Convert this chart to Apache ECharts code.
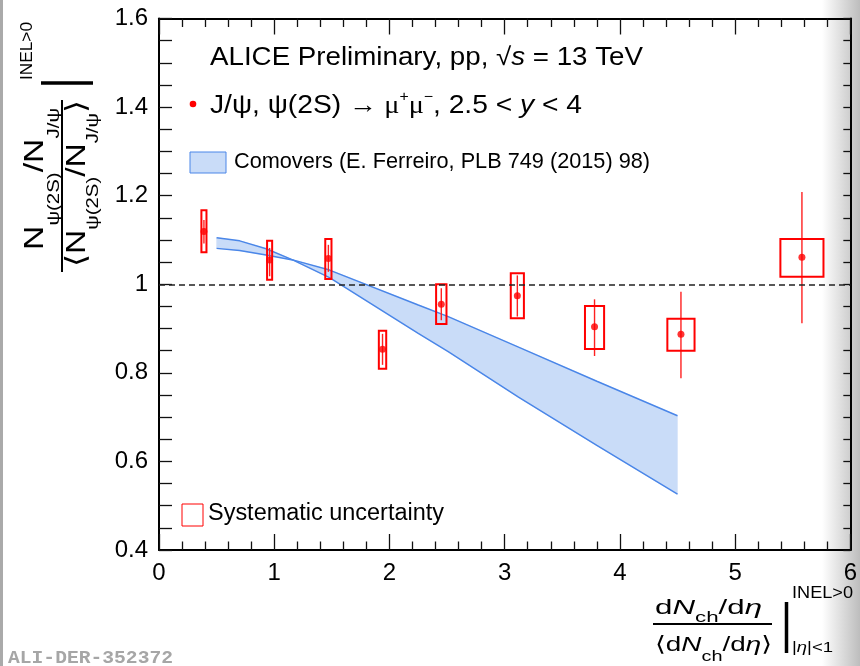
<!DOCTYPE html>
<html><head><meta charset="utf-8">
<script src="https://cdn.jsdelivr.net/npm/echarts@6/dist/echarts.min.js"></script>
<style>html,body{margin:0;padding:0;background:#fff}#c{width:860px;height:666px}</style>
</head><body><div id="c"></div>
<script>
// ---- data ----
const xVals  = [0.39, 0.96, 1.47, 1.94, 2.45, 3.11, 3.78, 4.53, 5.58];
const yVals  = [1.119, 1.055, 1.058, 0.853, 0.955, 0.974, 0.904, 0.887, 1.061];
const statLo = [1.092, 1.018, 1.028, 0.818, 0.919, 0.927, 0.838, 0.788, 0.912];
const statHi = [1.145, 1.082, 1.089, 0.888, 0.991, 1.020, 0.966, 0.983, 1.208];
const sysLo  = [1.072, 1.010, 1.012, 0.809, 0.910, 0.923, 0.854, 0.850, 1.017];
const sysHi  = [1.167, 1.098, 1.102, 0.895, 1.000, 1.025, 0.951, 0.922, 1.102];
const xErr   = [0.022, 0.022, 0.027, 0.032, 0.045, 0.057, 0.083, 0.118, 0.187];
const bandX  = [0.50, 0.70, 0.93, 1.16, 1.48, 2.25, 2.51, 3.12, 3.80, 4.50];
const bandA  = [1.105, 1.098, 1.080, 1.055, 1.015, 0.889, 0.848, 0.745, 0.636, 0.526];
const bandB  = [1.081, 1.076, 1.066, 1.055, 1.032, 0.953, 0.927, 0.858, 0.781, 0.703];
const xTickLabels = ['0', '1', '2', '3', '4', '5', '6'];
const yTickLabels = {0.4:'0.4', 0.6:'0.6', 0.8:'0.8', 1:'1', 1.2:'1.2', 1.4:'1.4', 1.6:'1.6'};

// ---- helpers for composite text ----
const FS = '"Liberation Sans", "DejaVu Sans", sans-serif';
const FSerif = '"Liberation Serif", "DejaVu Serif", serif';
const mctx = document.createElement('canvas').getContext('2d');
function fontStr(p){ return (p.it?'italic ':'') + (p.b?'bold ':'') + p.s + 'px ' + (p.f||FS); }
function row(pieces, target, gx, gy, left) {
  let x = 0; const kids = [];
  pieces.forEach(p => {
    const f = fontStr(p);
    mctx.font = f;
    const wd = mctx.measureText(p.t).width;
    kids.push({type:'text', x: x, y: p.dy||0, silent:true,
      style:{text:p.t, font:f, fill:p.c||'#000', align:'left', verticalAlign:'middle', textAlign:'left', textVerticalAlign:'middle'}});
    x += wd;
  });
  const off = left ? 0 : -x/2;
  kids.forEach(k => { k.x += off; });
  return {type:'group', x: gx, y: gy, scaleX: target ? target / x : 1, children: kids};
}

const ax = (pos, labels, isX) => ({
  type:'value', position: pos, min: isX?0:0.4, max: isX?6:1.6, interval: isX?1:0.2,
  axisLine:{show:true, onZero:false, lineStyle:{color:'#000', width:2}},
  axisTick:{show:true, inside:true, length: isX?16:(pos==='right'?7:13), lineStyle:{color:'#111', width:1.3}},
  minorTick:{show:true, splitNumber: isX?5:4, length: isX?8.5:(pos==='right'?7:13), lineStyle:{color:'#111', width:1.3}},
  splitLine:{show:false}, minorSplitLine:{show:false},
  axisLabel:{show: labels, margin: 11, fontSize: 24, fontFamily: FS, color:'#000',
    formatter: v => isX ? xTickLabels[Math.round(v)] : yTickLabels[Math.round(v*10)/10]}
});

const chart = echarts.init(document.getElementById('c'), null, {renderer:'canvas'});
const option = {
  animation: false,
  backgroundColor: '#fff',
  grid: {left:159, right:6, top:18.5, bottom:116, containLabel:false},
  xAxis: [ax('bottom', true, true), ax('top', false, true)],
  yAxis: [ax('left', true, false), ax('right', false, false)],
  series: [
    { type:'custom', name:'band', z:1, silent:true, data:[[bandX[0], bandA[0]]],
      renderItem: (params, api) => {
        const pts = bandX.map((x,i)=>api.coord([x, bandA[i]]))
          .concat(bandX.map((x,i)=>api.coord([x, bandB[i]])).reverse());
        return {type:'polygon', shape:{points: pts}, style:{fill:'#c9dcf8', stroke:'#dbe7fa', lineWidth:1}};
      }},
    { type:'line', name:'A', z:2, silent:true, symbol:'none', data: bandX.map((x,i)=>[x, bandA[i]]),
      lineStyle:{color:'#4a86e8', width:1.5} },
    { type:'line', name:'B', z:2, silent:true, symbol:'none', data: bandX.map((x,i)=>[x, bandB[i]]),
      lineStyle:{color:'#4a86e8', width:1.5} },
    { type:'custom', name:'stat', z:3, silent:true,
      data: xVals.map((x,i)=>[x, statLo[i], statHi[i]]),
      renderItem: (params, api) => {
        const a = api.coord([api.value(0), api.value(1)]);
        const b = api.coord([api.value(0), api.value(2)]);
        return {type:'line', shape:{x1:a[0], y1:a[1], x2:b[0], y2:b[1]}, style:{stroke:'#ff2020', lineWidth:1.4}};
      }},
    { type:'custom', name:'sys', z:4, silent:true,
      data: xVals.map((x,i)=>[x, sysLo[i], sysHi[i], xErr[i]]),
      renderItem: (params, api) => {
        const x = api.value(0), dx = api.value(3);
        const p1 = api.coord([x-dx, api.value(2)]);
        const p2 = api.coord([x+dx, api.value(1)]);
        return {type:'rect', shape:{x:p1[0], y:p1[1], width:p2[0]-p1[0], height:p2[1]-p1[1]},
          style:{fill:null, stroke:'#ff0000', lineWidth:2}};
      }},
    { type:'scatter', name:'pts', z:5, silent:true, symbol:'circle', symbolSize:7,
      data: xVals.map((x,i)=>[x, yVals[i]]), itemStyle:{color:'#ff0000'},
      markLine:{silent:true, symbol:'none', label:{show:false}, animation:false,
        lineStyle:{type:[6,4], color:'#222', width:1.5}, data:[{yAxis:1}]} }
  ],
  graphic: [
    {type:'rect', z:-10, silent:true, shape:{x:822, y:0, width:38, height:666},
      style:{fill:new echarts.graphic.LinearGradient(0,0,1,0,[{offset:0,color:'#ffffff'},{offset:1,color:'#bdbdbd'}])}},
    {type:'rect', z:-10, silent:true, shape:{x:0, y:0, width:3, height:666}, style:{fill:'#aaaaaa'}},
    // y-axis title (rotated)
    {type:'group', x:62, y:186, rotation:Math.PI/2, silent:true, children:[
      row([{t:'N',s:28,dy:-27},{t:'ψ(2S)',s:17,dy:-7.5},{t:'/N',s:28,dy:-27},{t:'J/ψ',s:17,dy:-7.5}], 142, 7, 0),
      {type:'line', shape:{x1:-86,y1:0,x2:86,y2:0}, style:{stroke:'#000', lineWidth:2}},
      row([{t:'⟨',s:28,dy:15},{t:'N',s:28,dy:15},{t:'ψ(2S)',s:17,dy:31},{t:'/N',s:28,dy:15},{t:'J/ψ',s:17,dy:31},{t:'⟩',s:28,dy:15}], 167, 2.5, 0),
      {type:'line', shape:{x1:103,y1:-21,x2:103,y2:31}, style:{stroke:'#000', lineWidth:3.5}},
      row([{t:'INEL>0',s:16}], 58, 135, -34.5)
    ]},
    // x-axis title
    row([{t:'d',s:21},{t:'N',s:21,it:true},{t:'ch',s:15,dy:10},{t:'/d',s:21},{t:'η',s:21,it:true}], 107, 708.5, 608),
    {type:'line', silent:true, shape:{x1:653,y1:624,x2:772,y2:624}, style:{stroke:'#000', lineWidth:2}},
    row([{t:'⟨d',s:21},{t:'N',s:21,it:true},{t:'ch',s:15,dy:12},{t:'/d',s:21},{t:'η',s:21,it:true},{t:'⟩',s:21}], 117, 713.5, 645),
    {type:'line', silent:true, shape:{x1:786.5,y1:602,x2:786.5,y2:653}, style:{stroke:'#000', lineWidth:3.5}},
    row([{t:'INEL>0',s:16}], 61, 792, 594, true),
    row([{t:'|',s:15},{t:'η',s:15,it:true},{t:'|<1',s:15}], 41, 792, 648, true),
    // annotations
    row([{t:'ALICE Preliminary, pp, √',s:25},{t:'s',s:25,it:true},{t:' = 13 TeV',s:25}], 433, 210, 58, true),
    {type:'circle', silent:true, shape:{cx:193, cy:104, r:3.3}, style:{fill:'#ff0000'}},
    row([{t:'J/ψ, ψ(2S) ',s:25},{t:'→',s:25,f:FSerif},{t:' μ',s:25,f:FSerif},{t:'+',s:14,dy:-9},{t:'μ',s:25,f:FSerif},{t:'−',s:14,dy:-9},
         {t:', 2.5 < ',s:25},{t:'y',s:25,it:true},{t:' < 4',s:25}], 372, 210, 106, true),
    {type:'rect', silent:true, shape:{x:190, y:152, width:36, height:21}, style:{fill:'#c9dcf8', stroke:'#4a86e8', lineWidth:1}},
    row([{t:'Comovers (E. Ferreiro, PLB 749 (2015) 98)',s:22}], 416, 234, 161.5, true),
    {type:'rect', silent:true, shape:{x:182, y:504, width:21, height:22}, style:{fill:'#fff', stroke:'#ff0000', lineWidth:1}},
    row([{t:'Systematic uncertainty',s:23.5}], 236, 208, 513.5, true),
    row([{t:'ALI-DER-352372',s:19,b:true,f:'"Liberation Mono", "DejaVu Sans Mono", monospace',c:'#a6a6a6'}], 165, 8, 658, true)
  ]
};
chart.setOption(option);
</script></body></html>
